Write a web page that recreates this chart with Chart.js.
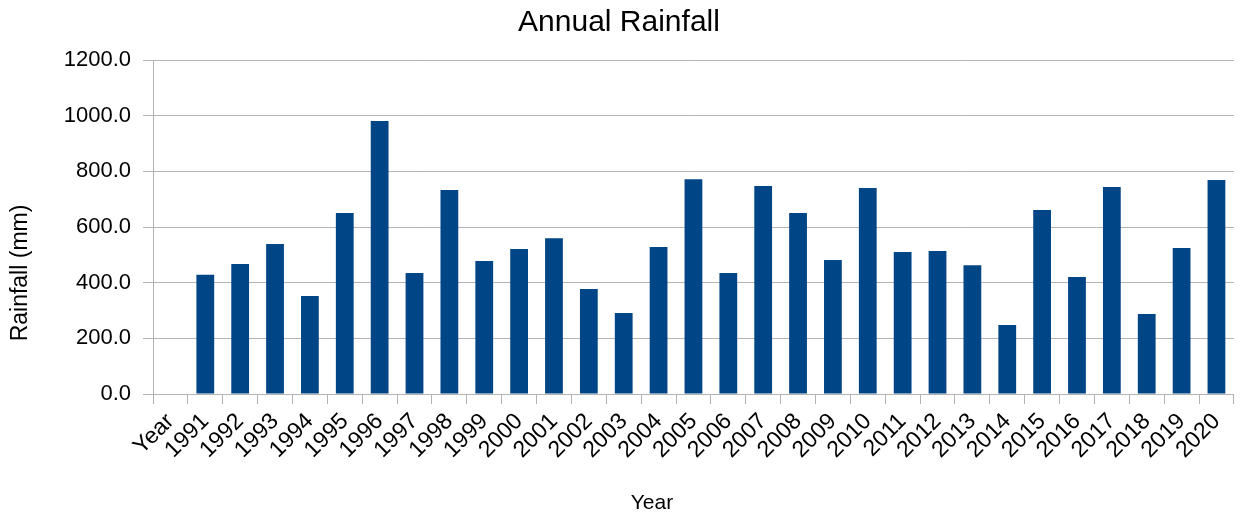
<!DOCTYPE html>
<html>
<head>
<meta charset="utf-8">
<title>Annual Rainfall</title>
<script src="https://cdn.jsdelivr.net/npm/chart.js@4/dist/chart.umd.min.js"></script>
<style>
  html, body { margin: 0; padding: 0; background: #ffffff; }
  #wrap { width: 1240px; height: 518px; }
</style>
</head>
<body>
<div id="wrap"><canvas id="c" width="1240" height="518"></canvas></div>
<script>
// Category labels (the first one is the header cell carried over from the sheet)
const years = ['Year', '1991', '1992', '1993', '1994', '1995', '1996', '1997', '1998', '1999', '2000',
  '2001', '2002', '2003', '2004', '2005', '2006', '2007', '2008', '2009', '2010',
  '2011', '2012', '2013', '2014', '2015', '2016', '2017', '2018', '2019', '2020'];

// Annual rainfall in mm
const rainfall = [null, 428, 467, 539, 352, 650, 981, 435, 733, 478, 521,
  560, 377, 291, 528, 772, 435, 747, 650, 481, 740,
  510, 514, 463, 248, 661, 420, 744, 287, 525, 769];

// Value axis ticks
const yTicks = { min: 0, max: 1200, step: 200 };

const FONT = '"Liberation Sans", Arial, sans-serif';
const GRID = '#b3b3b3';

// Axis captions placed like the spreadsheet export does
const axisCaptions = {
  id: 'axisCaptions',
  afterDraw(chart) {
    const ctx = chart.ctx;
    ctx.save();
    ctx.fillStyle = '#000000';
    ctx.font = '21px ' + FONT;
    ctx.textAlign = 'center';
    ctx.textBaseline = 'middle';
    ctx.fillText('Year', 652, 503);
    ctx.translate(21, 273);
    ctx.rotate(-Math.PI / 2);
    ctx.font = '23px ' + FONT;
    ctx.fillText('Rainfall (mm)', 0, 0);
    ctx.restore();
  }
};

new Chart(document.getElementById('c'), {
  type: 'bar',
  data: {
    labels: years,
    datasets: [{
      label: 'Rainfall (mm)',
      data: rainfall,
      backgroundColor: '#004586',
      borderWidth: 0,
      barPercentage: 1.0,
      categoryPercentage: 0.51
    }]
  },
  options: {
    responsive: false,
    animation: false,
    devicePixelRatio: 1,
    layout: { padding: { left: 0, right: 2, top: 0, bottom: 0 } },
    plugins: {
      legend: { display: false },
      tooltip: { enabled: false },
      title: {
        display: true,
        text: 'Annual Rainfall',
        color: '#000000',
        font: { family: FONT, size: 30, weight: 'normal' },
        padding: { top: 5, bottom: 19 }
      }
    },
    scales: {
      x: {
        offset: true,
        grid: {
          offset: true,
          drawOnChartArea: false,
          color: GRID,
          tickLength: 10,
          lineWidth: 1
        },
        border: { color: GRID },
        ticks: {
          autoSkip: false,
          minRotation: 45,
          maxRotation: 45,
          padding: 4,
          color: '#000000',
          font: { family: FONT, size: 23 }
        },
        afterFit(scale) { scale.height = 124; }
      },
      y: {
        min: yTicks.min,
        max: yTicks.max,
        grid: { color: GRID, tickLength: 10, lineWidth: 1 },
        border: { color: GRID },
        ticks: {
          stepSize: yTicks.step,
          padding: 12,
          color: '#000000',
          font: { family: FONT, size: 22 },
          callback: (v) => Number(v).toFixed(1)
        },
        afterFit(scale) { scale.width = 153; }
      }
    }
  },
  plugins: [axisCaptions]
});
</script>
</body>
</html>
